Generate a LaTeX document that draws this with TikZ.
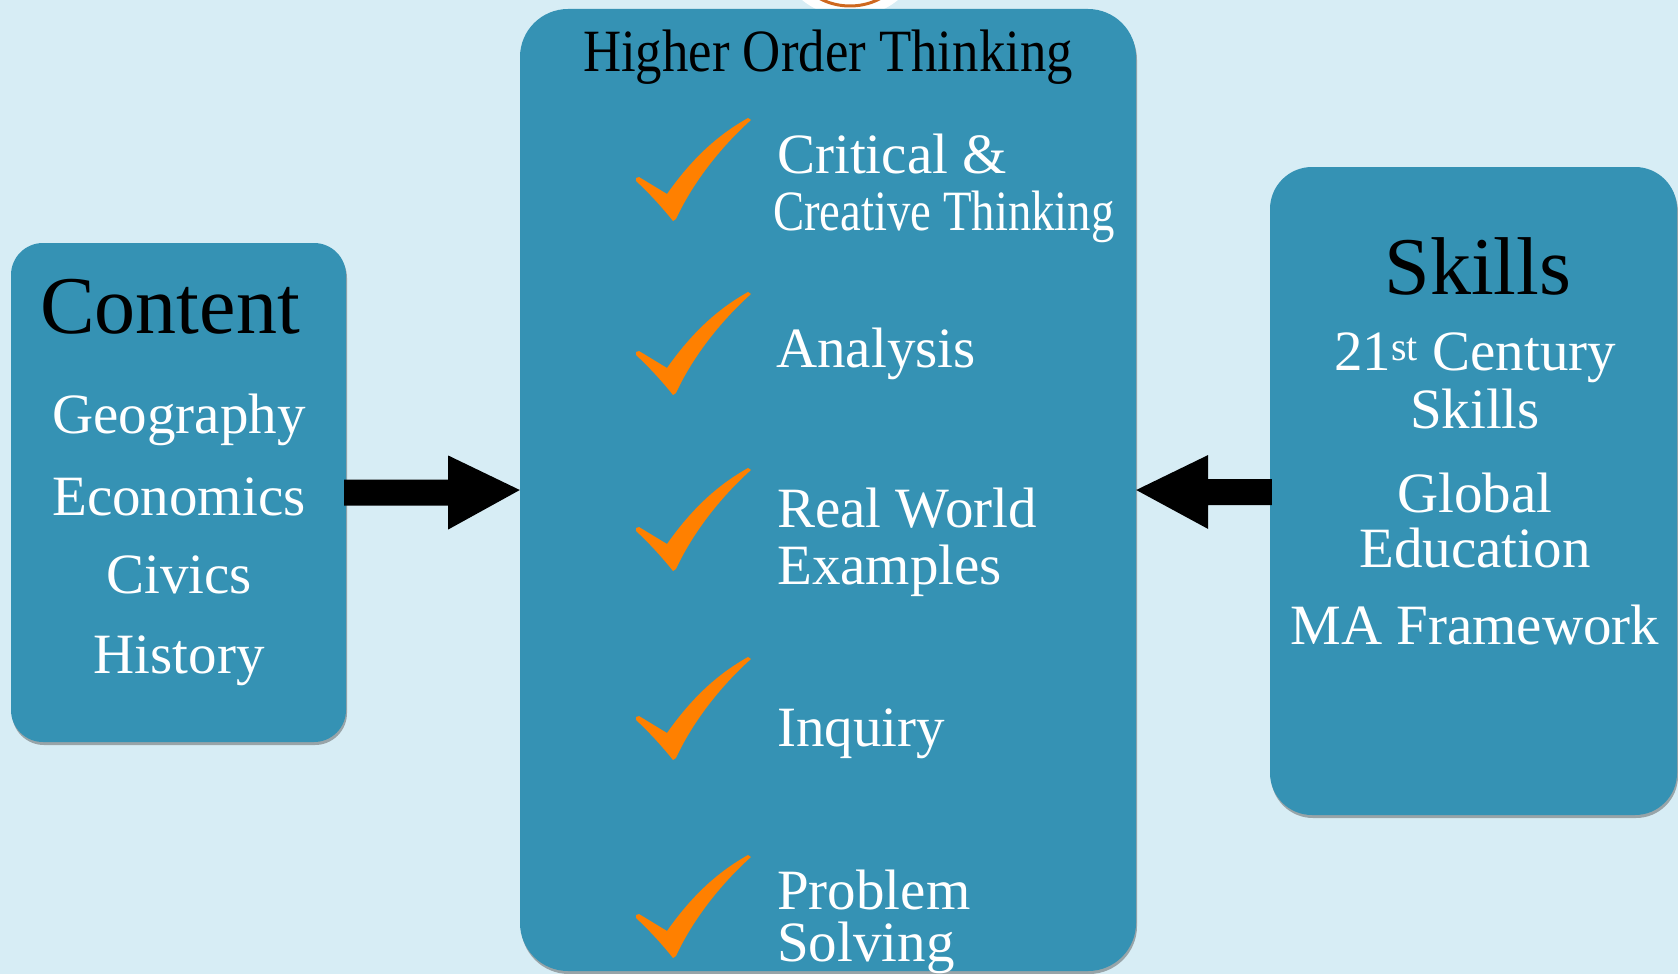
\documentclass[tikz,border=0pt]{standalone}
\usepackage{fontspec}
\usepackage{graphicx}
\setmainfont{Liberation Serif}
\usetikzlibrary{calc,shadows}
\definecolor{bgblue}{RGB}{215,237,245}
\definecolor{boxblue}{RGB}{53,146,180}
\definecolor{chkorange}{RGB}{255,128,0}
\definecolor{ringorange}{RGB}{206,104,32}
\tikzset{
  panel/.style={fill=boxblue, draw=none, inner sep=0pt,
    drop shadow={shadow xshift=1pt, shadow yshift=-3pt, opacity=0.45, fill=black!70}},
  wtxt/.style={text=white, font=\fontsize{57}{62}\selectfont, inner sep=0pt},
  btitle/.style={text=black, font=\fontsize{82}{90}\selectfont, inner sep=0pt},
  blockarrow/.style={fill=black, draw=none},
  checkmk/.pic={
    \fill[chkorange] (0,60) -- (3,59) -- (31,76)
      .. controls (55,42) and (80,18) .. (112,0) -- (115,2)
      .. controls (88,26) and (58,62) .. (40,101) -- (37,103)
      .. controls (25,88) and (12,74) .. (0,63) -- cycle;
  }
}
\begin{document}
\begin{tikzpicture}[x=1pt,y=-1pt]
\useasboundingbox (0,0) rectangle (1678,974);
\clip (0,0) rectangle (1678,974);
\fill[bgblue] (0,0) rectangle (1678,974);

% partial icon at top
\fill[white] (850,-59) circle (76);
\draw[ringorange, line width=3pt] (850,-59) circle (65);

% panels
\node[panel, rounded corners=32pt, minimum width=335pt, minimum height=499pt] (content) at (178.5,492.5) {};
\node[panel, rounded corners=48pt, minimum width=616pt, minimum height=962pt] (hot) at (828,490) {};
\node[panel, rounded corners=42pt, minimum width=407pt, minimum height=648pt] (skills) at (1473.5,491) {};

% arrows
\fill[blockarrow] ($(content.east)+(-2,-13)$) -- ($(content.east)+(102,-13)$)
  -- ($(content.east)+(102,-37)$) -- (hot.west) -- ($(content.east)+(102,37)$)
  -- ($(content.east)+(102,13)$) -- ($(content.east)+(-2,13)$) -- cycle;
\fill[blockarrow] ($(skills.west)+(2,-12)$) -- ($(hot.east)+(72,-11)$)
  -- ($(hot.east)+(72,-35)$) -- (hot.east) -- ($(hot.east)+(72,39)$)
  -- ($(hot.east)+(72,15)$) -- ($(skills.west)+(2,14)$) -- cycle;

% Content panel
\node[btitle, anchor=base] (ctitle) at (170,333) {Content};
\node[wtxt, anchor=base] (geo) at (179,433) {Geography};
\node[wtxt, anchor=base] (eco) at (179,515) {Economics};
\node[wtxt, anchor=base] (civ) at (179,593) {Civics};
\node[wtxt, anchor=base] (his) at (179,673) {History};

% Higher order thinking panel
\node[text=black, inner sep=0pt, anchor=base, font=\fontsize{60}{66}\selectfont] (hottitle) at (828,71) {\scalebox{0.88}[1]{Higher Order Thinking}};
\pic at (636,118) {checkmk};
\pic at (636,292) {checkmk};
\pic at (636,468) {checkmk};
\pic at (636,657) {checkmk};
\pic at (636,855) {checkmk};
\node[wtxt, anchor=base west] (crit) at (777,173) {Critical \&};
\node[wtxt, anchor=base west] (crea) at (773,230) {\scalebox{0.82}[1]{Creative Thinking}};
\node[wtxt, anchor=base west] (ana) at (776,367) {Analysis};
\node[wtxt, anchor=base west] (real) at (777,527) {Real World};
\node[wtxt, anchor=base west] (exa) at (777,584) {Examples};
\node[wtxt, anchor=base west] (inq) at (777,746) {Inquiry};
\node[wtxt, anchor=base west] (prob) at (777,909) {Problem};
\node[wtxt, anchor=base west] (solv) at (777,961) {Solving};

% Skills panel
\node[btitle, anchor=base] (stitle) at (1478,294) {Skills};
\node[wtxt, anchor=base] (cent) at (1475,370) {21\textsuperscript{st} Century};
\node[wtxt, anchor=base] (sk) at (1475,428) {Skills};
\node[wtxt, anchor=base] (glob) at (1475,512) {Global};
\node[wtxt, anchor=base] (edu) at (1475,567) {Education};
\node[wtxt, anchor=base] (maf) at (1475,644) {MA Framework};
\end{tikzpicture}
\end{document}
